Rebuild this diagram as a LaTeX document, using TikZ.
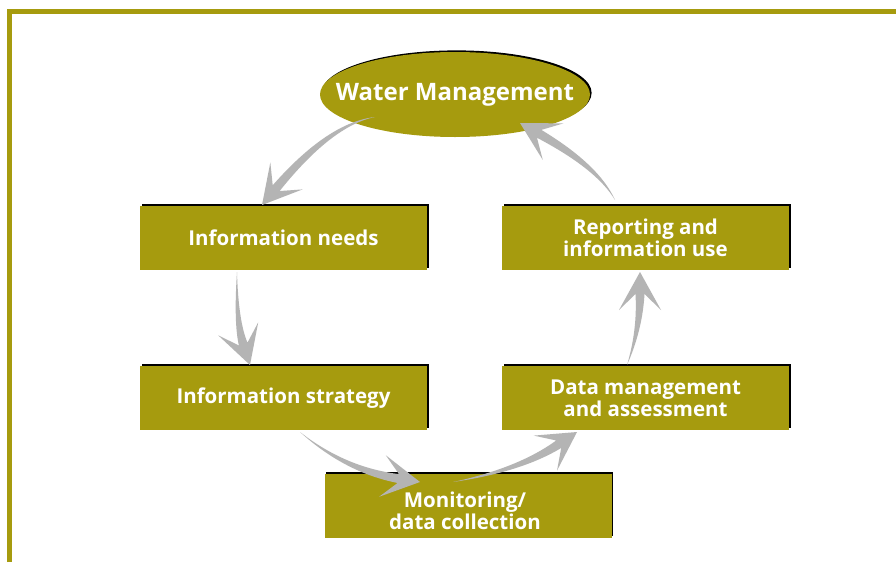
\documentclass[tikz,border=0pt]{standalone}
\usepackage{fontspec}
\setmainfont{Open Sans}
\usetikzlibrary{calc,shapes.geometric,shadows}
\definecolor{wmolive}{RGB}{166,155,14}
\definecolor{agray}{RGB}{180,180,180}
\tikzset{
  boxshadow/.style={drop shadow={shadow xshift=1.6pt,shadow yshift=1.6pt,opacity=1,fill=black}},
  boxtext/.style={text=white, font=\bfseries\fontsize{20.5}{22}\selectfont, align=center, inner sep=0pt},
  stepbox/.style={rectangle, fill=wmolive, boxshadow, minimum width=287pt, minimum height=64pt, boxtext},
  wmell/.style={ellipse, fill=wmolive, boxshadow, minimum width=270pt, minimum height=85pt, inner sep=0pt},
  wmtext/.style={text=white, font=\bfseries\fontsize{24}{28}\selectfont, inner sep=0pt},
  frameline/.style={wmolive, line width=5pt}
}
\newcommand\garrow[4]{%
 \coordinate (#1-S) at #2;
 \coordinate (#1-C) at #3;
 \coordinate (#1-T) at #4;
 \coordinate (#1-N) at ($(#1-T)!22pt!(#1-C)$);
 \coordinate (#1-B) at ($(#1-T)!38pt!(#1-C)$);
 \coordinate (#1-W1) at ($(#1-B)!21pt!90:(#1-T)$);
 \coordinate (#1-W2) at ($(#1-B)!21pt!-90:(#1-T)$);
 \coordinate (#1-L) at ($(#1-N)!4.5pt!90:(#1-T)$);
 \coordinate (#1-R) at ($(#1-N)!4.5pt!-90:(#1-T)$);
 \coordinate (#1-CL) at ($(#1-C)!2.5pt!90:(#1-T)$);
 \coordinate (#1-CR) at ($(#1-C)!2.5pt!-90:(#1-T)$);
 \fill[agray] (#1-S) .. controls ($(#1-S)!0.667!(#1-CL)$) and ($(#1-L)!0.667!(#1-CL)$) .. (#1-L)
   -- (#1-W1) -- (#1-T) -- (#1-W2) -- (#1-R)
   .. controls ($(#1-R)!0.667!(#1-CR)$) and ($(#1-S)!0.667!(#1-CR)$) .. (#1-S) -- cycle;
}
\begin{document}
\begin{tikzpicture}[x=1pt,y=-1pt]
\useasboundingbox[fill=white] (0,0) rectangle (896,562);
\draw[frameline] (9.5,562) -- (9.5,11.5) -- (896,11.5);

\node[wmell] (wm) at (455,94.5) {};
\node[wmtext] (wmt) at (wm.center) {Water Management};
\node[stepbox] (needs) at (283.5,238) {Information needs};
\node[stepbox] (report) at (645.5,238) {Reporting and\\information use};
\node[stepbox] (strat) at (283.5,398) {Information strategy};
\node[stepbox] (dm) at (645.5,398) {Data management\\and assessment};
\node[stepbox] (mon) at (468,506) {};
\node[boxtext] (mont) at ($(mon.center)+(-3,5)$) {Monitoring/\\data collection};

\garrow{a1}{(375,117)}{(330,124)}{(262,205)}
\garrow{a2}{(237,272)}{(236,322)}{(250,365)}
\garrow{a3}{(300,432)}{(345,470)}{(420,482)}
\garrow{a4}{(453,482)}{(520,470)}{(577,432)}
\garrow{a5}{(627,365)}{(640,330)}{(640,272)}
\garrow{a6}{(615,200)}{(598,167)}{(520,123)}
\end{tikzpicture}
\end{document}
